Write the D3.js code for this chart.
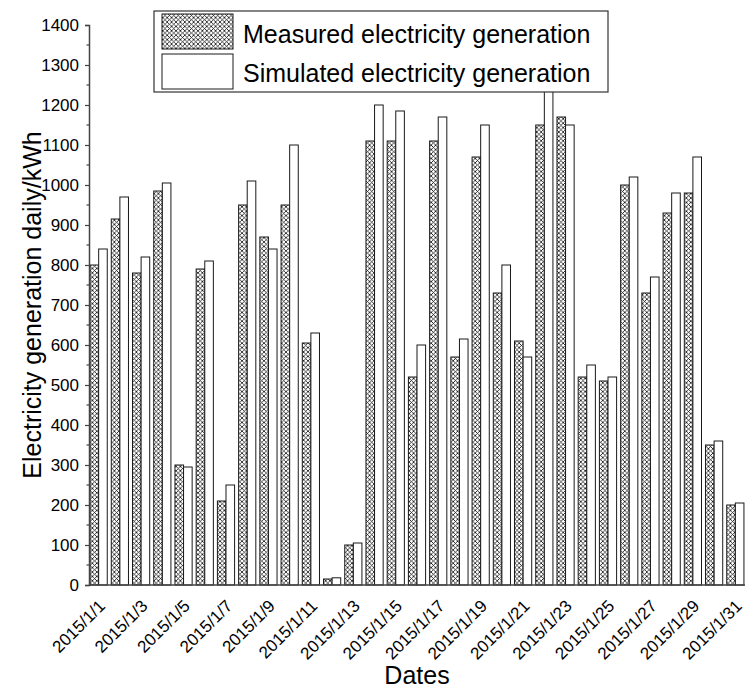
<!DOCTYPE html>
<html><head><meta charset="utf-8">
<script src="https://cdn.jsdelivr.net/npm/d3@7"></script>
<style>body{margin:0;background:#fff}svg{display:block}text{font-family:"Liberation Sans",Arial,sans-serif;fill:#000}</style>
</head><body><svg id="c" width="745" height="689"></svg>
<script>
const dates = ["2015/1/1","2015/1/2","2015/1/3","2015/1/4","2015/1/5","2015/1/6","2015/1/7","2015/1/8","2015/1/9","2015/1/10","2015/1/11","2015/1/12","2015/1/13","2015/1/14","2015/1/15","2015/1/16","2015/1/17","2015/1/18","2015/1/19","2015/1/20","2015/1/21","2015/1/22","2015/1/23","2015/1/24","2015/1/25","2015/1/26","2015/1/27","2015/1/28","2015/1/29","2015/1/30","2015/1/31"];
const measured  = [800,915,780,985,300,790,210,950,870,950,605,15,100,1110,1110,520,1110,570,1070,730,610,1150,1170,520,510,1000,730,930,980,350,200];
const simulated = [840,970,820,1005,295,810,250,1010,840,1100,630,18,105,1200,1185,600,1170,615,1150,800,570,1250,1150,550,520,1020,770,980,1070,360,205];
const seriesNames = ["Measured electricity generation","Simulated electricity generation"];
const yTicks = [0,100,200,300,400,500,600,700,800,900,1000,1100,1200,1300,1400];

const svg = d3.select("#c");
const defs = svg.append("defs");
const pat = defs.append("pattern").attr("id","hatch").attr("patternUnits","userSpaceOnUse").attr("width",4.4).attr("height",4.4);
pat.append("rect").attr("width",4.4).attr("height",4.4).attr("fill","#fff");
pat.append("path").attr("d","M0,0L4.4,4.4M4.4,0L0,4.4M-1,3.4L1,5.4M3.4,-1L5.4,1").attr("stroke","#000").attr("stroke-width",0.75);

const L = 89, R = 745, T = 25, B = 585;
const x = d3.scaleBand().domain(dates).range([L, R]).paddingInner(0.19).paddingOuter(0.05);
const xs = d3.scaleBand().domain([0,1]).range([0, x.bandwidth()]);
const y = d3.scaleLinear().domain([0,1400]).range([B, T]);

const fills = ["url(#hatch)","#fff"];
[measured, simulated].forEach((arr, si) => {
  svg.append("g").selectAll("rect").data(arr).join("rect")
    .attr("x",(d,i)=>x(dates[i]) + xs(si))
    .attr("y",d=>y(d))
    .attr("width",xs.bandwidth())
    .attr("height",d=>y(0)-y(d))
    .attr("fill",fills[si]).attr("stroke","#1a1a1a").attr("stroke-width",1);
});

// y axis
const yAxis = svg.append("g").attr("transform",`translate(${L},0)`)
  .call(d3.axisLeft(y).tickValues(yTicks).tickSize(4).tickPadding(6).tickFormat(d3.format("d")));
yAxis.select(".domain").attr("stroke","#444").attr("stroke-width",1.5);
yAxis.selectAll(".tick line").attr("stroke","#444").attr("stroke-width",1.2);
yAxis.selectAll("text").attr("font-size",17).attr("font-family","Liberation Sans, Arial, sans-serif").attr("fill","#000");
const minor = d3.range(50,1400,100);
svg.append("g").selectAll("line").data(minor).join("line")
  .attr("x1",L-2.5).attr("x2",L).attr("y1",d=>y(d)).attr("y2",d=>y(d)).attr("stroke","#444").attr("stroke-width",1.2);

// x axis
svg.append("line").attr("x1",L).attr("x2",R).attr("y1",B).attr("y2",B).attr("stroke","#444").attr("stroke-width",1.5);
const labelDates = dates.filter((d,i)=>i%2===0);
svg.append("g").selectAll("text").data(labelDates).join("text")
  .attr("transform",d=>`translate(${x(d)+x.bandwidth()/2+7.5},${B+22}) rotate(-45)`)
  .attr("text-anchor","end").attr("font-size",17).text(d=>d);

svg.append("text").attr("x",(L+R)/2).attr("y",684).attr("text-anchor","middle").attr("font-size",25).text("Dates");
svg.append("text").attr("transform",`translate(41,${(T+B)/2}) rotate(-90)`).attr("text-anchor","middle").attr("font-size",25).text("Electricity generation daily/kWh");

// legend
const lg = svg.append("g");
lg.append("rect").attr("x",154).attr("y",11).attr("width",454).attr("height",81).attr("fill","#fff").attr("stroke","#333").attr("stroke-width",1.2);
seriesNames.forEach((n,i)=>{
  lg.append("rect").attr("x",162).attr("y",14+i*40).attr("width",71).attr("height",35).attr("fill",fills[i]).attr("stroke","#1a1a1a").attr("stroke-width",1);
  lg.append("text").attr("x",243).attr("y",43+i*39).attr("font-size",25).text(n);
});
</script></body></html>
